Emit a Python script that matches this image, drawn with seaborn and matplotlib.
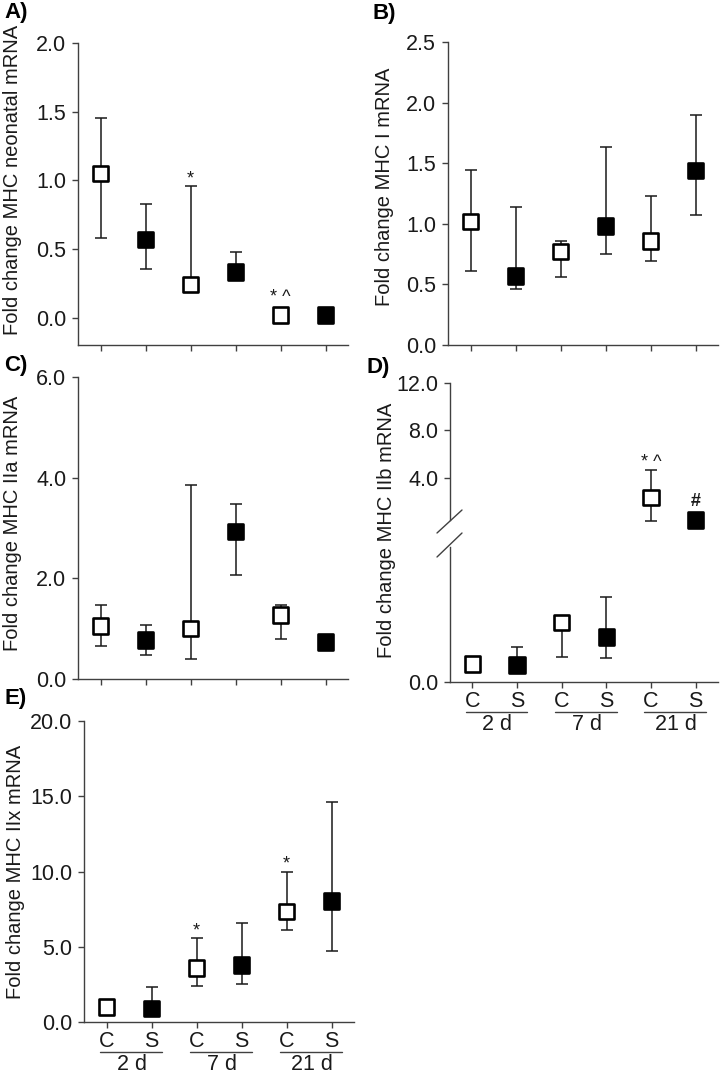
import numpy as np
import pandas as pd
import matplotlib
matplotlib.use("Agg")
import matplotlib.pyplot as plt
import matplotlib.transforms as mtrans
from matplotlib.lines import Line2D
import seaborn as sns

W, H, DPI = 724, 1074, 100

sns.set_theme(style="ticks")
plt.rcParams["font.family"] = ["Liberation Sans", "DejaVu Sans"]

SPINE = "#404040"
INK = "#1a1a1a"

groups = ["C", "S", "C", "S", "C", "S"]
days = ["2 d", "7 d", "21 d"]

# A) MHC neonatal
a_mean = [1.05, 0.57, 0.24, 0.33, 0.02, 0.02]
a_lo   = [0.58, 0.35, 0.24, 0.33, 0.02, 0.02]
a_hi   = [1.45, 0.83, 0.96, 0.48, 0.02, 0.02]
# B) MHC I
b_mean = [1.02, 0.57, 0.77, 0.98, 0.86, 1.44]
b_lo   = [0.61, 0.46, 0.56, 0.75, 0.69, 1.07]
b_hi   = [1.44, 1.14, 0.86, 1.63, 1.23, 1.90]
# C) MHC IIa
c_mean = [1.05, 0.78, 1.00, 2.93, 1.27, 0.73]
c_lo   = [0.65, 0.47, 0.40, 2.07, 0.80, 0.73]
c_hi   = [1.48, 1.08, 3.86, 3.48, 1.48, 0.73]
# D) MHC IIb, broken axis: first four on lower scale, last two on upper scale
d_mean = [1.00, 0.95, 3.30, 2.50, 2.36, 0.46]
d_lo   = [1.00, 0.95, 1.40, 1.35, 0.38, 0.46]
d_hi   = [1.00, 1.95, 3.30, 4.70, 4.67, 0.46]
# E) MHC IIx
e_mean = [1.00, 0.90, 3.60, 3.80, 7.35, 8.05]
e_lo   = [1.00, 0.90, 2.40, 2.50, 6.10, 4.75]
e_hi   = [1.00, 2.33, 5.55, 6.60, 10.0, 14.6]


def px_axes(fig, l, r, t, b):
    return fig.add_axes([l / W, 1 - b / H, (r - l) / W, (b - t) / H])


def style(ax, ylim, yticks, show_bottom=True):
    ax.set_xlim(-0.5, 5.5)
    ax.set_ylim(*ylim)
    ax.set_yticks(yticks)
    ax.set_yticklabels([f"{v:.1f}" for v in yticks])
    ax.set_xticks(range(6))
    ax.set_xticklabels([])
    sns.despine(ax=ax)
    for s in ["left", "bottom"]:
        ax.spines[s].set_color(SPINE)
        ax.spines[s].set_linewidth(1.0)
    ax.tick_params(axis="both", direction="out", length=4.5, width=1.0,
                   color=SPINE, labelsize=15.5, labelcolor=INK)
    ax.tick_params(axis="y", pad=4)
    ax.tick_params(axis="x", pad=2)
    if not show_bottom:
        ax.spines["bottom"].set_visible(False)
        ax.tick_params(axis="x", length=0)
    ax.set_xlabel("")
    ax.set_ylabel("")
    ax.patch.set_alpha(0)


def draw(ax, mean, lo, hi, idx=range(6)):
    idx = list(idx)
    df = pd.DataFrame({
        "pos": idx,
        "mean": [mean[i] for i in idx],
        "lo": [lo[i] for i in idx],
        "hi": [hi[i] for i in idx],
        "group": [groups[i] for i in idx],
    })
    ax.errorbar(df["pos"], df["mean"],
                yerr=[df["mean"] - df["lo"], df["hi"] - df["mean"]],
                fmt="none", ecolor=INK, elinewidth=1.1, capsize=4,
                capthick=1.1, zorder=2, clip_on=False)
    sns.scatterplot(data=df, x="pos", y="mean", hue="group",
                    palette={"C": "white", "S": "black"},
                    marker="s", s=125, edgecolor="black", linewidth=1.9,
                    legend=False, ax=ax, zorder=3, clip_on=False)
    ax.set_xlabel("")
    ax.set_ylabel("")


def mark(ax, x, y, text, dy=0, size=13, weight="normal"):
    ax.annotate(text, (x, y), xytext=(0, dy), textcoords="offset points",
                ha="center", va="bottom", fontsize=size, color=INK,
                fontweight=weight, annotation_clip=False)


def group_labels(ax, fig):
    ax.set_xticklabels(groups)
    tr_line = ax.get_xaxis_transform() + mtrans.ScaledTranslation(0, -30 / DPI, fig.dpi_scale_trans)
    tr_text = ax.get_xaxis_transform() + mtrans.ScaledTranslation(0, -42 / DPI, fig.dpi_scale_trans)
    for k, d in enumerate(days):
        c = 2 * k + 0.5
        ax.add_line(Line2D([c - 0.65, c + 0.73], [0, 0], transform=tr_line,
                           color=SPINE, lw=1.0, clip_on=False))
        ax.text(c + 0.06, 0, d, transform=tr_text, ha="center", va="center",
                fontsize=15.5, color=INK, clip_on=False)


def ylab(fig, x, y, text):
    fig.text(x / W, 1 - y / H, text, rotation=90, ha="center", va="center",
             fontsize=14.5, color=INK)


def letter(fig, x, y, text):
    fig.text(x / W, 1 - y / H, text, ha="left", va="top", fontsize=16,
             fontweight="bold", color="black")


fig = plt.figure(figsize=(W / DPI, H / DPI), dpi=DPI)

# A
axA = px_axes(fig, 78, 348, 43, 345)
style(axA, (-0.2, 2.0), [0.0, 0.5, 1.0, 1.5, 2.0])
draw(axA, a_mean, a_lo, a_hi)
mark(axA, 2, a_hi[2], "*", dy=-1)
mark(axA, 4, a_mean[4], "* ^", dy=6)

# B
axB = px_axes(fig, 448, 718, 42, 345)
style(axB, (0, 2.5), [0.0, 0.5, 1.0, 1.5, 2.0, 2.5])
draw(axB, b_mean, b_lo, b_hi)

# C
axC = px_axes(fig, 78, 348, 377, 679)
style(axC, (0, 6.0), [0.0, 2.0, 4.0, 6.0])
draw(axC, c_mean, c_lo, c_hi)

# D (broken y axis)
axDu = px_axes(fig, 450, 718, 383, 520)
style(axDu, (0.46, 12.0), [4.0, 8.0, 12.0], show_bottom=False)
draw(axDu, d_mean, d_lo, d_hi, idx=[4, 5])
mark(axDu, 4, d_hi[4], "* ^", dy=-1)
mark(axDu, 5, d_mean[5], "#", dy=7, size=13, weight="bold")

axDl = px_axes(fig, 450, 718, 547, 682)
style(axDl, (0, 7.5), [0.0])
draw(axDl, d_mean, d_lo, d_hi, idx=[0, 1, 2, 3])
group_labels(axDl, fig)

for y0, y1 in [(533, 510), (557, 533)]:
    fig.add_artist(Line2D([437 / W, 462 / W], [1 - y0 / H, 1 - y1 / H],
                          transform=fig.transFigure, color=SPINE, lw=1.0))

# E
axE = px_axes(fig, 84, 354, 721, 1022)
style(axE, (0, 20.0), [0.0, 5.0, 10.0, 15.0, 20.0])
draw(axE, e_mean, e_lo, e_hi)
mark(axE, 2, e_hi[2], "*", dy=-1)
mark(axE, 4, e_hi[4], "*", dy=-1)
group_labels(axE, fig)

# y labels
ylab(fig, 13, 180, "Fold change MHC neonatal mRNA")
ylab(fig, 385, 187, "Fold change MHC I mRNA")
ylab(fig, 13, 523, "Fold change MHC IIa mRNA")
ylab(fig, 387, 530, "Fold change MHC IIb mRNA")
ylab(fig, 16, 872, "Fold change MHC IIx mRNA")

# panel letters
letter(fig, 4, 2, "A)")
letter(fig, 373, 3, "B)")
letter(fig, 4, 355, "C)")
letter(fig, 366, 357, "D)")
letter(fig, 4, 688, "E)")

fig.savefig("out.png", dpi=DPI)
